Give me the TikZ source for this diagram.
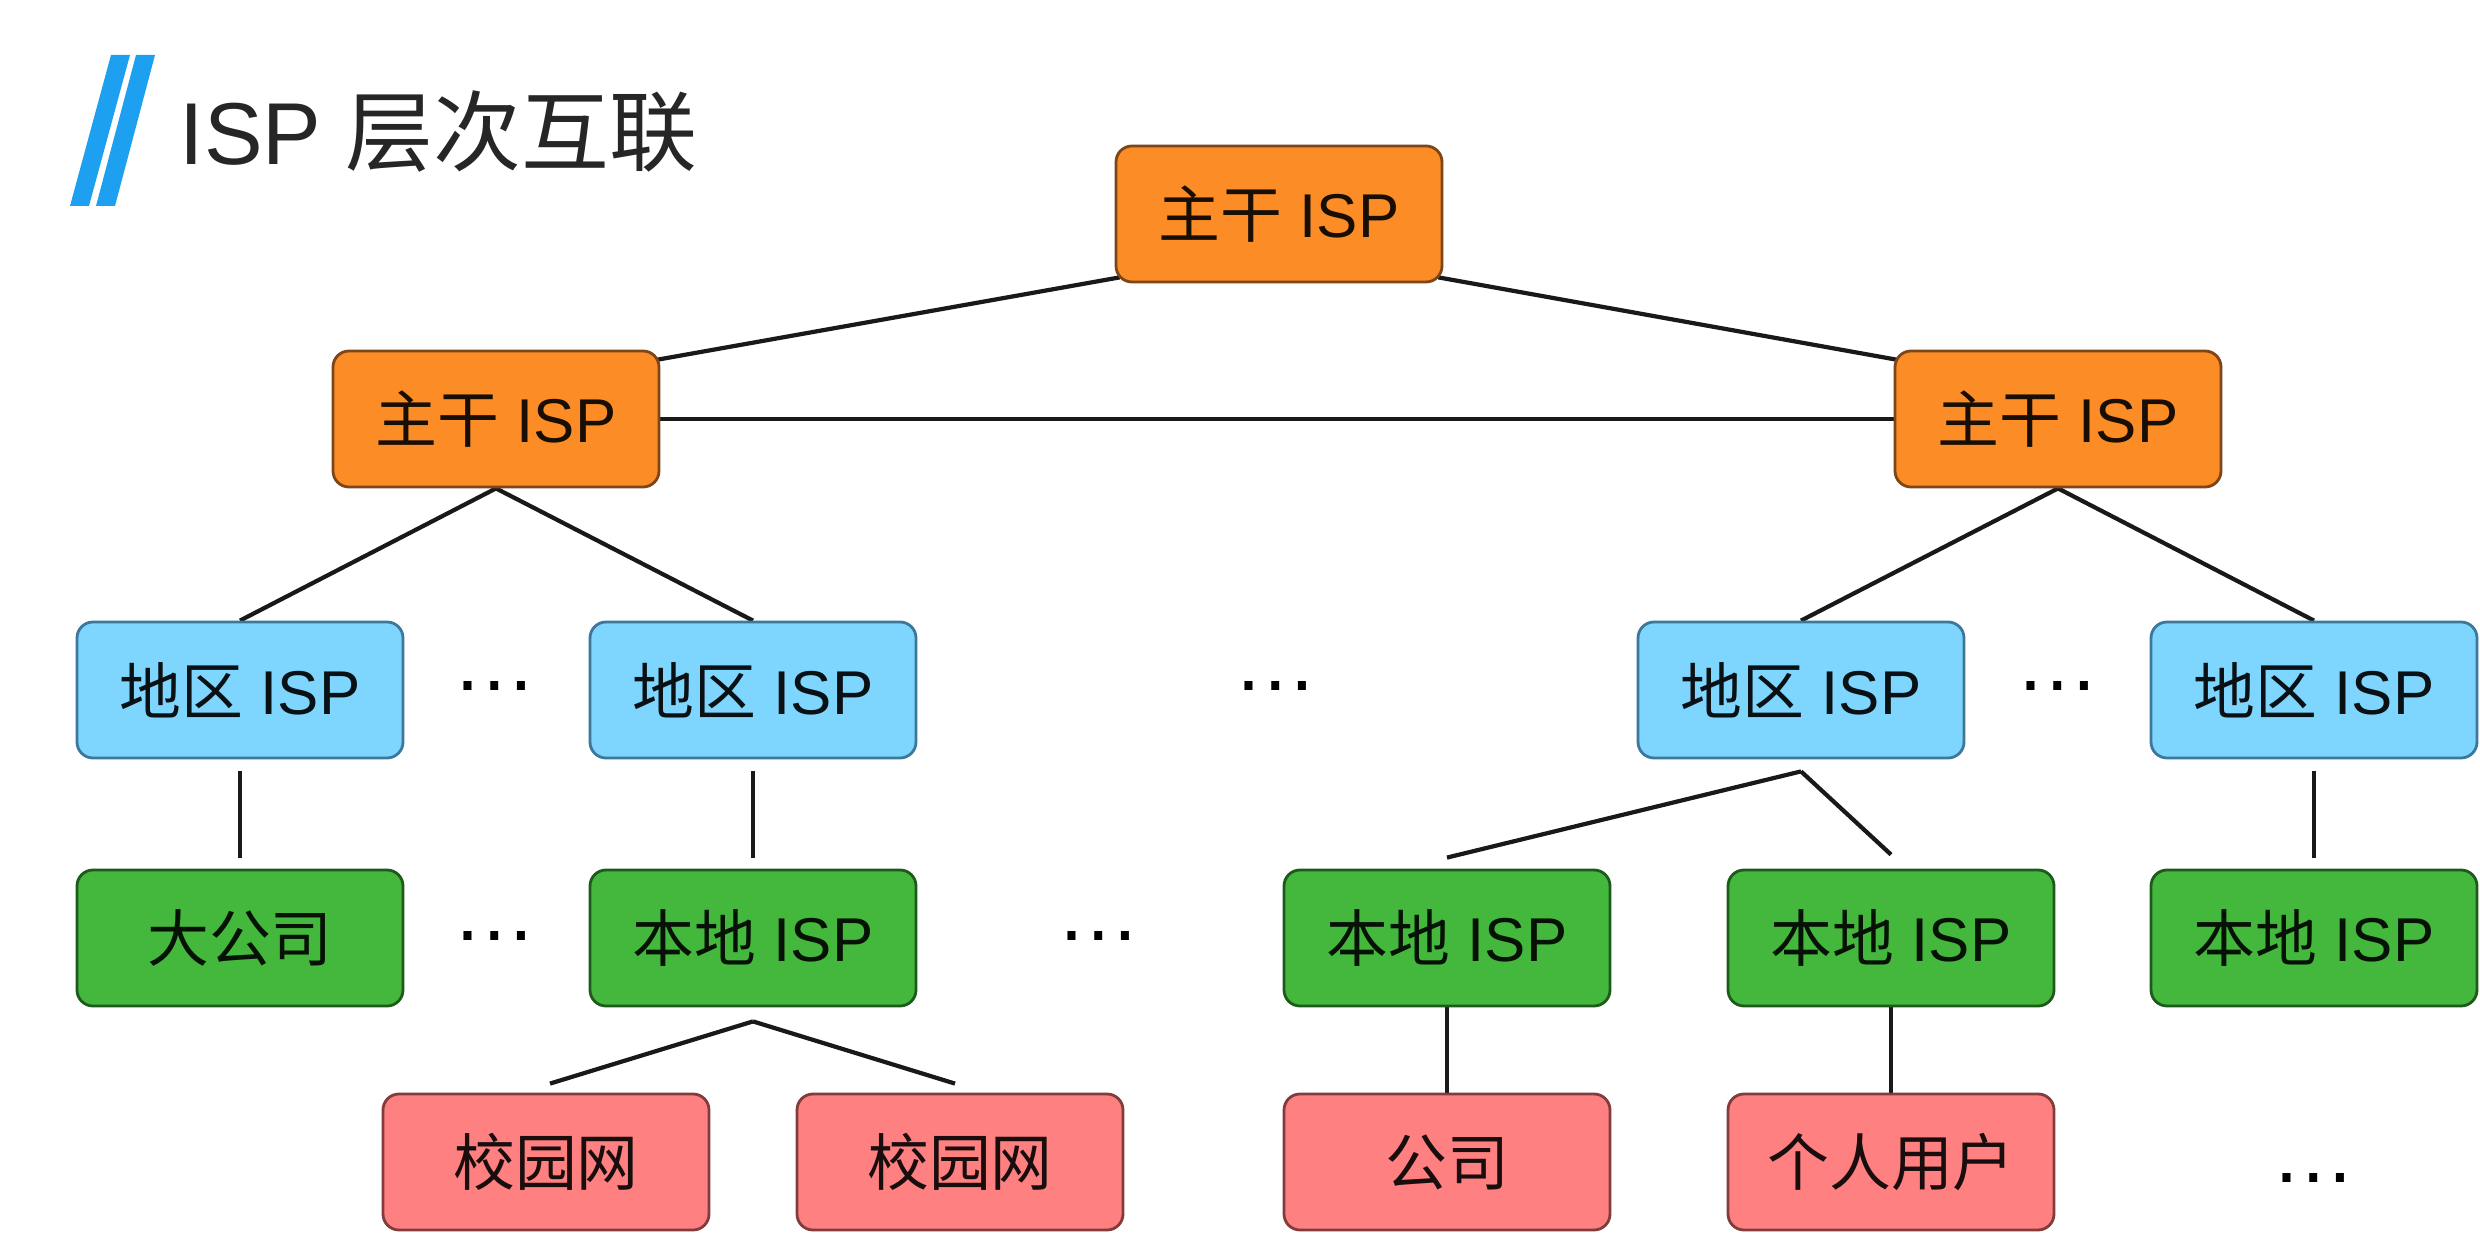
\documentclass[tikz,border=0pt]{standalone}
\usepackage{fontspec}
\setmainfont{Liberation Sans}
\newfontfamily\cjk{Noto Sans CJK SC}
\usetikzlibrary{calc,backgrounds}
\definecolor{orgfill}{RGB}{252,140,38}
\definecolor{orgdraw}{RGB}{125,70,25}
\definecolor{bluefill}{RGB}{126,214,255}
\definecolor{bluedraw}{RGB}{60,120,155}
\definecolor{grnfill}{RGB}{68,184,60}
\definecolor{grndraw}{RGB}{30,90,28}
\definecolor{redfill}{RGB}{255,128,128}
\definecolor{reddraw}{RGB}{130,60,60}
\definecolor{barblue}{RGB}{30,160,240}
\definecolor{linecol}{RGB}{25,25,25}
\tikzset{
  box/.style={draw, rounded corners=0.16cm, minimum width=3.26cm, minimum height=1.36cm,
    line width=0.8pt, inner sep=0pt, font=\fontsize{17.6}{20}\selectfont},
  core/.style={box, fill=orgfill, draw=orgdraw, text=orgfill!10!black},
  region/.style={box, fill=bluefill, draw=bluedraw, text=bluefill!8!black},
  local/.style={box, fill=grnfill, draw=grndraw, text=grnfill!10!black},
  user/.style={box, fill=redfill, draw=reddraw, text=redfill!10!black},
  link/.style={line width=1.2pt, draw=linecol},
  gaplink/.style={link, shorten <=0.12cm, shorten >=0.11cm},
  more/.style={inner sep=0pt, font=\fontsize{24}{24}\selectfont, text=black},
  bar/.style={fill=barblue, draw=none}
}
\begin{document}
\begin{tikzpicture}[x=1cm,y=1cm]
\useasboundingbox (0,0) rectangle (24.8,-12.54);
% title
\fill[bar] (0.70,-2.06) -- (0.89,-2.06) -- (1.30,-0.55) -- (1.11,-0.55) -- cycle;
\fill[bar] (0.96,-2.06) -- (1.15,-2.06) -- (1.55,-0.55) -- (1.36,-0.55) -- cycle;
\node[anchor=base west, inner sep=0pt, font=\fontsize{25}{28}\selectfont, text=black!85] (title) at (1.79,-1.645) {ISP {\cjk 层次互联}};
% nodes
\node[core] (T) at (12.79,-2.14) {{\cjk 主干} ISP};
\node[core] (L) at (4.96,-4.19) {{\cjk 主干} ISP};
\node[core] (R) at (20.58,-4.19) {{\cjk 主干} ISP};
\node[region] (A1) at (2.40,-6.90) {{\cjk 地区} ISP};
\node[region] (A2) at (7.53,-6.90) {{\cjk 地区} ISP};
\node[region] (A3) at (18.01,-6.90) {{\cjk 地区} ISP};
\node[region] (A4) at (23.14,-6.90) {{\cjk 地区} ISP};
\node[local] (D1) at (2.40,-9.38) {{\cjk 大公司}};
\node[local] (B2) at (7.53,-9.38) {{\cjk 本地} ISP};
\node[local] (B3) at (14.47,-9.38) {{\cjk 本地} ISP};
\node[local] (B4) at (18.91,-9.38) {{\cjk 本地} ISP};
\node[local] (B5) at (23.14,-9.38) {{\cjk 本地} ISP};
\node[user] (C1) at (5.46,-11.62) {{\cjk 校园网}};
\node[user] (C2) at (9.60,-11.62) {{\cjk 校园网}};
\node[user] (E1) at (14.47,-11.62) {{\cjk 公司}};
\node[user] (E2) at (18.91,-11.62) {{\cjk 个人用户}};
% ellipses
\node[more] (m1) at (4.95,-6.86) {…};
\node[more] (m2) at (12.76,-6.86) {…};
\node[more] (m3) at (20.58,-6.86) {…};
\node[more] (m4) at (4.95,-9.36) {…};
\node[more] (m5) at (10.99,-9.36) {…};
\node[more] (m6) at (23.14,-11.78) {…};
% connectors
\begin{pgfonlayer}{background}
\fill[white] (0,0) rectangle (24.8,-12.54);
\draw[link] ($(T.south west)+(0.05,0.06)$) -- ($(L.north east)+(-0.08,-0.11)$);
\draw[link] ($(T.south east)+(-0.05,0.06)$) -- ($(R.north west)+(0.08,-0.11)$);
\draw[link] (L.center) -- (R.center);
\draw[link] (L.south) -- (A1.north);
\draw[link] (L.south) -- (A2.north);
\draw[link] (R.south) -- (A3.north);
\draw[link] (R.south) -- (A4.north);
\draw[link] (B3.south) -- (E1.north);
\draw[link] (B4.south) -- (E2.north);
\end{pgfonlayer}
\draw[gaplink] (A1.south) -- (D1.north);
\draw[gaplink] (A2.south) -- (B2.north);
\draw[gaplink] (A4.south) -- (B5.north);
\coordinate (a3b) at ($(A3.south)+(0,-0.12)$);
\coordinate (b3t) at ($(B3.north)+(0,0.11)$);
\coordinate (b4t) at ($(B4.north)+(0,0.14)$);
\draw[link] (a3b) -- (b3t);
\draw[link] (a3b) -- (b4t);
\coordinate (b2b) at ($(B2.south)+(0,-0.14)$);
\coordinate (c1t) at ($(C1.north)+(0.04,0.09)$);
\coordinate (c2t) at ($(C2.north)+(-0.05,0.09)$);
\draw[link] (b2b) -- (c1t);
\draw[link] (b2b) -- (c2t);
\end{tikzpicture}
\end{document}
